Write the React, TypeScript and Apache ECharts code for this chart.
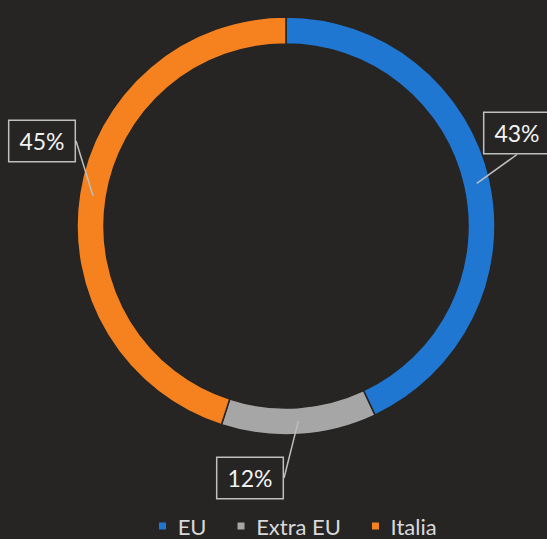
import React, { useEffect, useRef } from "react";
import * as echarts from "echarts";

const categories = ["EU", "Extra EU", "Italia"];
const shares = [43, 12, 45];

const BG = "#262524";
const COLORS = ["#1f77d2", "#a6a6a6", "#f5821f"];
const LABEL_POS: [number, number][] = [
  [517, 133],
  [250, 478],
  [42, 141],
];
const FONT = "Lato, 'Open Sans', sans-serif";
const TINY = 0.2;

export default function App() {
  const ref = useRef<HTMLDivElement>(null);
  useEffect(() => {
    if (!ref.current) return;
    const chart = echarts.init(ref.current, undefined, { renderer: "svg" });
    const ringData = categories.map((name, i) => ({
      name,
      value: shares[i],
      itemStyle: { color: COLORS[i] },
    }));
    // invisible helper sectors: a thin wedge at each slice's middle carries the label
    const helperData: any[] = [];
    categories.forEach((name, i) => {
      const half = shares[i] / 2 - TINY / 2;
      helperData.push({ name: name + "_a", value: half, label: { show: false }, labelLine: { show: false } });
      helperData.push({ name: name + "_m", value: TINY, cat: i });
      helperData.push({ name: name + "_b", value: half, label: { show: false }, labelLine: { show: false } });
    });
    chart.setOption({
      animation: false,
      backgroundColor: BG,
      legend: {
        data: categories,
        left: 152,
        top: 510,
        icon: "rect",
        itemWidth: 9,
        itemHeight: 9,
        itemGap: 29,
        formatter: (n: string) => " " + n,
        textStyle: {
          color: "#d9d9d9",
          fontSize: 22,
          fontFamily: FONT,
        },
      },
      series: [
        {
          type: "pie",
          center: [286, 226],
          radius: [182, 209],
          startAngle: 90,
          clockwise: true,
          silent: true,
          label: { show: false },
          labelLine: { show: false },
          itemStyle: { borderColor: BG, borderWidth: 1.5 },
          emphasis: { disabled: true },
          data: ringData,
        },
        {
          type: "pie",
          z: 5,
          center: [286, 226],
          radius: [0, 195.5],
          startAngle: 90,
          clockwise: true,
          silent: true,
          legendHoverLink: false,
          avoidLabelOverlap: false,
          minShowLabelAngle: 0,
          emphasis: { disabled: true },
          itemStyle: { color: "transparent", borderWidth: 0 },
          label: {
            show: true,
            position: "outside",
            overflow: "none",
            formatter: (p: any) => `${shares[p.data.cat]}%`,
            color: "#f2f2f2",
            fontSize: 23,
            fontFamily: FONT,
            lineHeight: 24,
            backgroundColor: BG,
            borderColor: "#bfbfbf",
            borderWidth: 1.5,
            padding: [8, 10],
          },
          labelLine: {
            show: true,
            length: 5,
            length2: 0,
            lineStyle: { color: "#bfbfbf", width: 1.5 },
          },
          labelLayout: (p: any) => {
            const d = helperData[p.dataIndex];
            if (d.cat == null) return {};
            const pos = LABEL_POS[d.cat];
            return {
              x: pos[0],
              y: pos[1],
              align: "center",
              verticalAlign: "middle",
            };
          },
          data: helperData,
        },
      ],
    });
    return () => chart.dispose();
  }, []);
  return (
    <div
      ref={ref}
      style={{ position: "fixed", left: 0, top: 0, width: 547, height: 539 }}
    />
  );
}
